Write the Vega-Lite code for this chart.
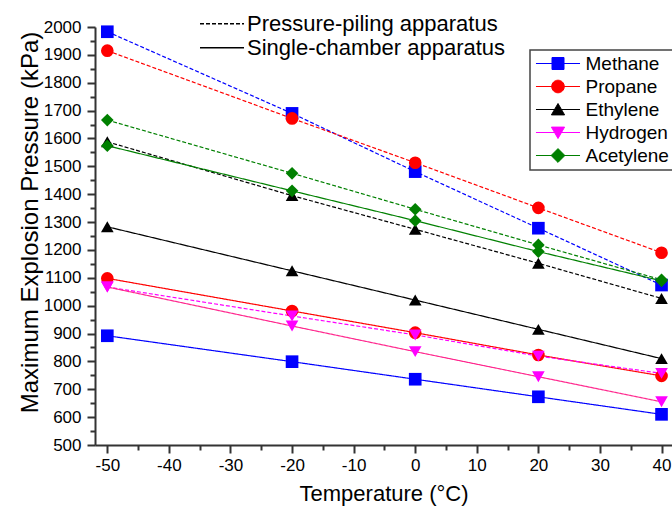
{
  "$schema": "https://vega.github.io/schema/vega-lite/v6.json",
  "width": 577,
  "height": 418,
  "autosize": {"type": "none"},
  "padding": {"left": 95, "top": 27, "right": 0, "bottom": 62},
  "background": "white",
  "config": {
    "font": "Liberation Sans",
    "view": {"stroke": null},
    "legend": {"strokeWidth": 1.5},
    "axis": {
      "grid": false,
      "domainColor": "#333333",
      "domainWidth": 2,
      "tickColor": "#333333",
      "tickWidth": 2,
      "labelFont": "Liberation Sans",
      "labelFontSize": 17,
      "labelColor": "black",
      "titleFont": "Liberation Sans",
      "titleFontSize": 22,
      "titleFontWeight": "normal",
      "titleColor": "black"
    }
  },
  "data": {
    "values": [
      {"gas": "Methane", "app": "Pressure-piling apparatus", "t": -50, "p": 1983},
      {"gas": "Methane", "app": "Pressure-piling apparatus", "t": -20, "p": 1690},
      {"gas": "Methane", "app": "Pressure-piling apparatus", "t": 0, "p": 1481},
      {"gas": "Methane", "app": "Pressure-piling apparatus", "t": 20, "p": 1278},
      {"gas": "Methane", "app": "Pressure-piling apparatus", "t": 40, "p": 1074},
      {"gas": "Methane", "app": "Single-chamber apparatus", "t": -50, "p": 892},
      {"gas": "Methane", "app": "Single-chamber apparatus", "t": -20, "p": 799},
      {"gas": "Methane", "app": "Single-chamber apparatus", "t": 0, "p": 736},
      {"gas": "Methane", "app": "Single-chamber apparatus", "t": 20, "p": 673},
      {"gas": "Methane", "app": "Single-chamber apparatus", "t": 40, "p": 610},
      {"gas": "Propane", "app": "Pressure-piling apparatus", "t": -50, "p": 1915},
      {"gas": "Propane", "app": "Pressure-piling apparatus", "t": -20, "p": 1672},
      {"gas": "Propane", "app": "Pressure-piling apparatus", "t": 0, "p": 1513},
      {"gas": "Propane", "app": "Pressure-piling apparatus", "t": 20, "p": 1351},
      {"gas": "Propane", "app": "Pressure-piling apparatus", "t": 40, "p": 1190},
      {"gas": "Propane", "app": "Single-chamber apparatus", "t": -50, "p": 1098},
      {"gas": "Propane", "app": "Single-chamber apparatus", "t": -20, "p": 981},
      {"gas": "Propane", "app": "Single-chamber apparatus", "t": 0, "p": 903},
      {"gas": "Propane", "app": "Single-chamber apparatus", "t": 20, "p": 823},
      {"gas": "Propane", "app": "Single-chamber apparatus", "t": 40, "p": 748},
      {"gas": "Ethylene", "app": "Pressure-piling apparatus", "t": -50, "p": 1588},
      {"gas": "Ethylene", "app": "Pressure-piling apparatus", "t": -20, "p": 1395},
      {"gas": "Ethylene", "app": "Pressure-piling apparatus", "t": 0, "p": 1274},
      {"gas": "Ethylene", "app": "Pressure-piling apparatus", "t": 20, "p": 1152},
      {"gas": "Ethylene", "app": "Pressure-piling apparatus", "t": 40, "p": 1026},
      {"gas": "Ethylene", "app": "Single-chamber apparatus", "t": -50, "p": 1283},
      {"gas": "Ethylene", "app": "Single-chamber apparatus", "t": -20, "p": 1125},
      {"gas": "Ethylene", "app": "Single-chamber apparatus", "t": 0, "p": 1020},
      {"gas": "Ethylene", "app": "Single-chamber apparatus", "t": 20, "p": 915},
      {"gas": "Ethylene", "app": "Single-chamber apparatus", "t": 40, "p": 810},
      {"gas": "Hydrogen", "app": "Pressure-piling apparatus", "t": -50, "p": 1067},
      {"gas": "Hydrogen", "app": "Pressure-piling apparatus", "t": -20, "p": 963},
      {"gas": "Hydrogen", "app": "Pressure-piling apparatus", "t": 0, "p": 895},
      {"gas": "Hydrogen", "app": "Pressure-piling apparatus", "t": 20, "p": 819},
      {"gas": "Hydrogen", "app": "Pressure-piling apparatus", "t": 40, "p": 757},
      {"gas": "Hydrogen", "app": "Single-chamber apparatus", "t": -50, "p": 1067},
      {"gas": "Hydrogen", "app": "Single-chamber apparatus", "t": -20, "p": 927},
      {"gas": "Hydrogen", "app": "Single-chamber apparatus", "t": 0, "p": 835},
      {"gas": "Hydrogen", "app": "Single-chamber apparatus", "t": 20, "p": 745},
      {"gas": "Hydrogen", "app": "Single-chamber apparatus", "t": 40, "p": 655},
      {"gas": "Acetylene", "app": "Pressure-piling apparatus", "t": -50, "p": 1666},
      {"gas": "Acetylene", "app": "Pressure-piling apparatus", "t": -20, "p": 1475},
      {"gas": "Acetylene", "app": "Pressure-piling apparatus", "t": 0, "p": 1346},
      {"gas": "Acetylene", "app": "Pressure-piling apparatus", "t": 20, "p": 1218},
      {"gas": "Acetylene", "app": "Pressure-piling apparatus", "t": 40, "p": 1093},
      {"gas": "Acetylene", "app": "Single-chamber apparatus", "t": -50, "p": 1574},
      {"gas": "Acetylene", "app": "Single-chamber apparatus", "t": -20, "p": 1412},
      {"gas": "Acetylene", "app": "Single-chamber apparatus", "t": 0, "p": 1305},
      {"gas": "Acetylene", "app": "Single-chamber apparatus", "t": 20, "p": 1194},
      {"gas": "Acetylene", "app": "Single-chamber apparatus", "t": 40, "p": 1089}
    ]
  },
  "encoding": {
    "x": {
      "field": "t", "type": "quantitative",
      "scale": {"domain": [-52, 41.7], "nice": false, "zero": false},
      "axis": {
        "title": "Temperature (°C)",
        "values": [-50, -45, -40, -35, -30, -25, -20, -15, -10, -5, 0, 5, 10, 15, 20, 25, 30, 35, 40],
        "labelExpr": "datum.value % 10 === 0 ? '' + datum.value : ''",
        "tickSize": {"condition": {"test": "datum.value % 10 === 0", "value": 8}, "value": 5},
        "labelFlush": false,
        "labelOverlap": false,
        "labelPadding": 4,
        "titlePadding": 10
      }
    },
    "y": {
      "field": "p", "type": "quantitative",
      "scale": {"domain": [500, 2000], "nice": false, "zero": false},
      "axis": {
        "title": "Maximum Explosion Pressure (kPa)",
        "values": [500, 550, 600, 650, 700, 750, 800, 850, 900, 950, 1000, 1050, 1100, 1150, 1200, 1250, 1300, 1350, 1400, 1450, 1500, 1550, 1600, 1650, 1700, 1750, 1800, 1850, 1900, 1950, 2000],
        "labelExpr": "datum.value % 100 === 0 ? '' + datum.value : ''",
        "tickSize": {"condition": {"test": "datum.value % 100 === 0", "value": 8}, "value": 5},
        "labelFlush": false,
        "labelOverlap": false,
        "labelPadding": 6,
        "titlePadding": 1,
        "titleFontSize": 24,
        "titleY": 195
      }
    }
  },
  "layer": [
    {
      "mark": {"type": "line", "strokeWidth": 1.2},
      "encoding": {
        "color": {
          "field": "gas", "type": "nominal",
          "condition": {"test": "datum.gas === 'Hydrogen' && datum.app === 'Single-chamber apparatus'", "value": "#FF2A8F"},
          "scale": {"domain": ["Methane", "Propane", "Ethylene", "Hydrogen", "Acetylene"], "range": ["#0000FF", "#FF0000", "#000000", "#FF00FF", "#008000"]},
          "legend": {
            "orient": "none", "legendX": 435, "legendY": 23, "title": null,
            "labelFont": "Liberation Sans", "labelFontSize": 19, "labelColor": "black", "labelLimit": 300,
            "strokeColor": "#444444", "padding": 4, "rowPadding": 3,
            "symbolSize": 144, "symbolOffset": 14.5, "labelOffset": 18,
            "encode": {
              "symbols": {
                "update": {
                  "shape": {"signal": "datum.value === 'Methane' ? 'M-3.67,0H3.67M-1,-1H1V1H-1Z' : datum.value === 'Propane' ? 'M-3.67,0H3.67M-1.05,0A1.05,1.05 0 1,0 1.05,0A1.05,1.05 0 1,0 -1.05,0Z' : datum.value === 'Ethylene' ? 'M-3.67,0H3.67M0,-1L1.1,0.9H-1.1Z' : datum.value === 'Hydrogen' ? 'M-3.67,0H3.67M0,1L1.1,-0.9H-1.1Z' : 'M-3.67,0H3.67M0,-1.15L1.15,0L0,1.15L-1.15,0Z'"},
                  "strokeWidth": {"value": 1},
                  "opacity": {"value": 1}
                }
              }
            }
          }
        },
        "strokeDash": {
          "field": "app", "type": "nominal",
          "scale": {"domain": ["Pressure-piling apparatus", "Single-chamber apparatus"], "range": [[4, 2], [1, 0]]},
          "legend": {
            "orient": "none", "legendX": 104, "legendY": -15.3, "title": null,
            "labelFont": "Liberation Sans", "labelFontSize": 22, "labelColor": "black", "labelLimit": 400,
            "padding": 0, "rowPadding": 1,
            "symbolType": "M-2,0H2", "symbolSize": 484, "symbolStrokeWidth": 1.6,
            "symbolStrokeColor": "black", "symbolOffset": 11, "labelOffset": 13
          }
        }
      }
    },
    {
      "mark": {"type": "point", "filled": true, "opacity": 1, "size": 160},
      "encoding": {
        "color": {
          "field": "gas", "type": "nominal",
          "scale": {"domain": ["Methane", "Propane", "Ethylene", "Hydrogen", "Acetylene"], "range": ["#0000FF", "#FF0000", "#000000", "#FF00FF", "#008000"]}
        },
        "shape": {
          "field": "gas", "type": "nominal",
          "scale": {"domain": ["Acetylene", "Ethylene", "Hydrogen", "Methane", "Propane"], "range": ["diamond", "triangle-up", "triangle-down", "square", "circle"]},
          "legend": null
        }
      }
    }
  ]
}
